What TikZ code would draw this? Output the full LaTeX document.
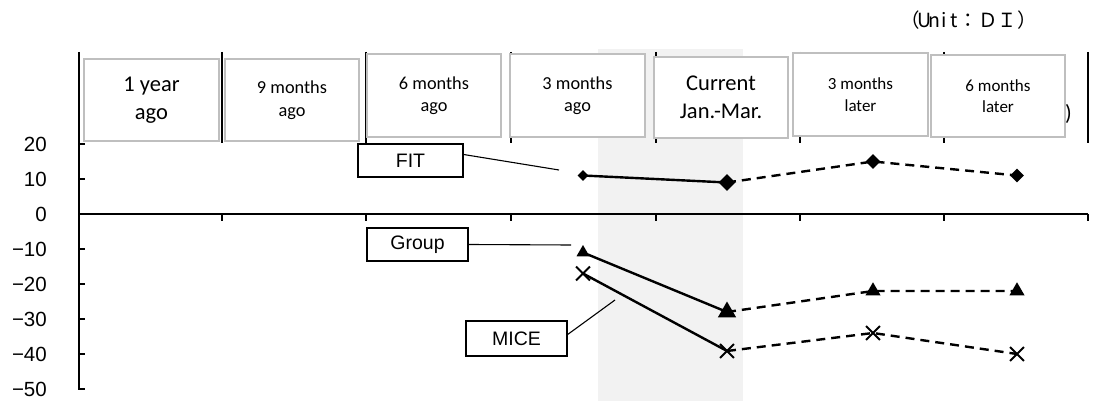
\documentclass[tikz,border=0pt]{standalone}
\usepackage{fontspec}
\setmainfont{Carlito}
\newfontfamily\arialf{Liberation Sans}
\newfontfamily\jpf{Noto Sans CJK JP}
\usetikzlibrary{shapes.geometric,shapes.misc}
\definecolor{bandgray}{HTML}{F2F2F2}
\definecolor{hdrgray}{HTML}{BFBFBF}
\tikzset{
  hdr/.style={draw=hdrgray, line width=1.4pt, fill=white, align=center, inner sep=0pt},
  hbig/.style={font=\fontsize{22.5}{28}\selectfont},
  hmid/.style={font=\fontsize{18.3}{22.5}\selectfont},
  hsml/.style={font=\fontsize{17}{21.5}\selectfont},
  lbl/.style={draw=black, line width=1.3pt, fill=white, inner sep=0pt, font=\arialf\fontsize{19.5}{19.5}\selectfont},
  leader/.style={line width=1.1pt},
  axis/.style={line width=2.8pt},
  grid/.style={line width=1.9pt},
  tick/.style={line width=2.2pt},
  ticklbl/.style={anchor=east, inner sep=0pt, font=\arialf\fontsize{20.5}{20.5}\selectfont},
  solidser/.style={line width=2.4pt},
  dashser/.style={line width=2.4pt, dash pattern=on 9pt off 6pt},
  dia/.style={diamond, fill=black, inner sep=0pt, aspect=1},
  tri/.style={regular polygon, regular polygon sides=3, fill=black, inner sep=0pt},
  crs/.style={cross out, draw=black, line width=1.8pt, inner sep=0pt, minimum size=12pt},
}
\begin{document}
\begin{tikzpicture}[x=1pt,y=-1pt]
\useasboundingbox (0,0) rectangle (1096,401);
% shaded band
\fill[bandgray] (598,49) rectangle (743,401);
% top grid lines
\foreach \x in {222,366,511,656,800,944,1088} \draw[grid] (\x,52) -- (\x,143);
% axes
\draw[axis] (79,52) -- (79,390);
\draw[axis] (79,214) -- (1088,214);
\foreach \v/\t [count=\i] in {20/20,10/10,0/0,-10/−10,-20/−20,-30/−30,-40/−40,-50/−50}{
  \draw[tick] (79,{214-3.5*\v}) -- ++(6,0);
  \node[ticklbl] (yl\i) at (47,{214-3.5*\v}) {\t};
}
\foreach \x in {222,366,511,656,800,944,1088} \draw[tick] (\x,214) -- ++(0,7);
% remnant parenthesis
\node[anchor=east, inner sep=0pt, font=\fontsize{22}{22}\selectfont] (rp) at (1072,114) {)};
% header boxes
\node[hdr,hbig,minimum width=135pt,minimum height=82pt] (h1) at (151.5,100) {1 year\\ago};
\node[hdr,hmid,minimum width=134pt,minimum height=82pt] (h2) at (292,100) {9 months\\ago};
\node[hdr,hmid,minimum width=134pt,minimum height=83pt] (h3) at (434,95.5) {6 months\\ago};
\node[hdr,hmid,minimum width=135pt,minimum height=83pt] (h4) at (577.5,95.5) {3 months\\ago};
\node[hdr,hbig,minimum width=134pt,minimum height=81pt] (h5) at (721,97.5) {Current\\Jan.-Mar.};
\node[hdr,hsml,minimum width=135pt,minimum height=83pt] (h6) at (860.5,94.5) {3 months\\later};
\node[hdr,hsml,minimum width=134pt,minimum height=82pt] (h7) at (998,96) {6 months\\later};
% unit
\node[anchor=west, inner sep=0pt, font=\jpf\fontsize{19.5}{19.5}\selectfont] (unit) at (900,20)
  {（\makebox[0.5em]{U}\makebox[0.5em]{n}\makebox[0.5em]{i}\makebox[0.5em]{t}：ＤＩ）};
% data coordinates
\coordinate (f1) at (583,175.5); \coordinate (f2) at (727,182.5);
\coordinate (f3) at (873,161.5); \coordinate (f4) at (1017,175.5);
\coordinate (g1) at (583,252.5); \coordinate (g2) at (727,312);
\coordinate (g3) at (873,291);   \coordinate (g4) at (1017,291);
\coordinate (m1) at (583,273.5); \coordinate (m2) at (727,351);
\coordinate (m3) at (873,333);   \coordinate (m4) at (1017,354);
% series lines
\draw[solidser] (f1) -- (f2);
\draw[dashser] (f2) -- (f3) -- (f4);
\draw[solidser] (g1) -- (g2);
\draw[dashser] (g2) -- (g3) -- (g4);
\draw[solidser] (m1) -- (m2);
\draw[dashser] (m2) -- (m3) -- (m4);
% markers
\node[dia,minimum width=11pt,minimum height=11pt] (fm1) at (f1) {};
\node[dia,minimum width=17pt,minimum height=17pt] (fm2) at (f2) {};
\node[dia,minimum width=15pt,minimum height=15pt] (fm3) at (f3) {};
\node[dia,minimum width=14pt,minimum height=14pt] (fm4) at (f4) {};
\node[tri,minimum size=15pt] (gm1) at (g1) {};
\node[tri,minimum size=21pt] (gm2) at (g2) {};
\node[tri,minimum size=17.5pt] (gm3) at (g3) {};
\node[tri,minimum size=17.5pt] (gm4) at (g4) {};
\node[crs] (mm1) at (m1) {};
\node[crs] (mm2) at (m2) {};
\node[crs] (mm3) at (m3) {};
\node[crs] (mm4) at (m4) {};
% labels
\node[lbl,minimum width=105pt,minimum height=33pt] (FIT) at (410.5,160.5) {FIT};
\node[lbl,minimum width=101pt,minimum height=33pt] (GRP) at (417.5,244.5) {Group};
\node[lbl,minimum width=101pt,minimum height=35pt] (MICE) at (516.5,338.5) {MICE};
\coordinate (fe) at (559,170);
\coordinate (ge) at (571,245);
\coordinate (me) at (615,300);
\draw[leader] ([yshift=6pt]FIT.east) -- (fe);
\draw[leader] (GRP.east) -- (ge);
\draw[leader] ([yshift=4pt]MICE.east) -- (me);
\end{tikzpicture}
\end{document}
